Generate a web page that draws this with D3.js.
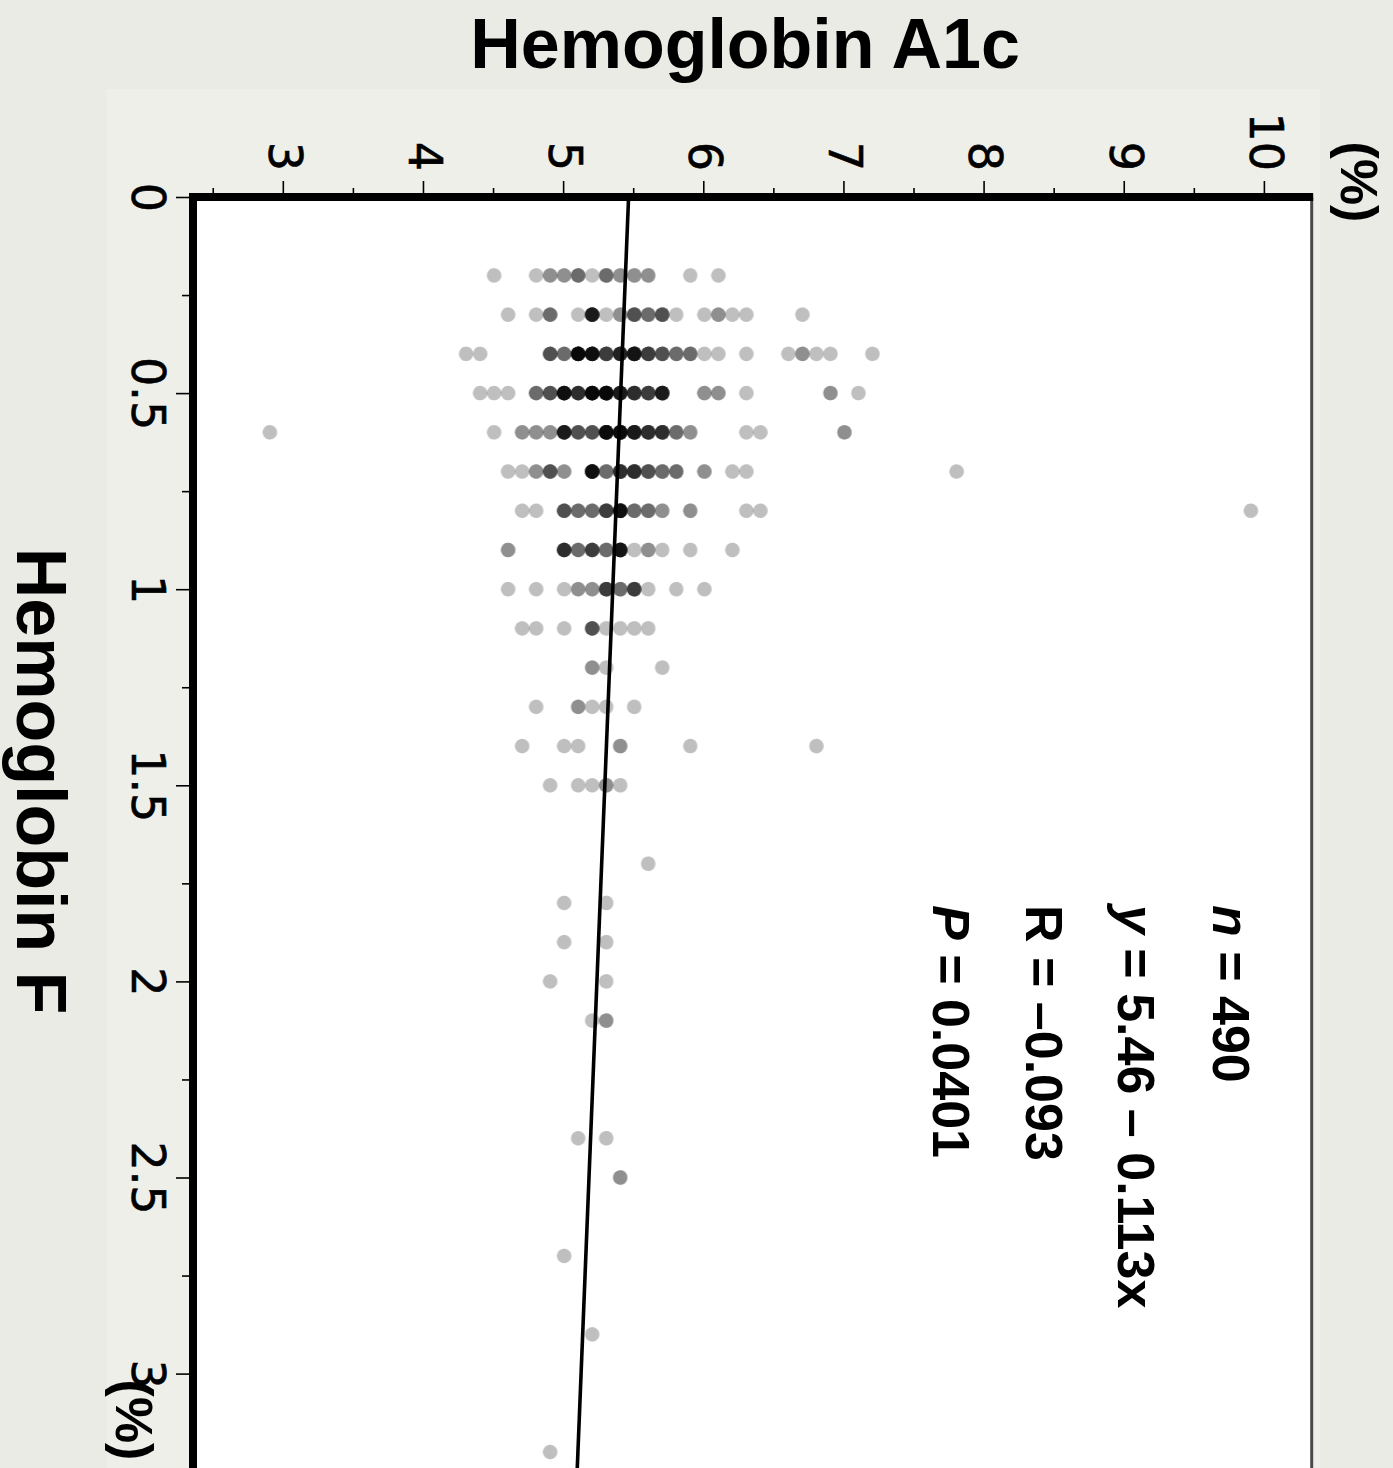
<!DOCTYPE html>
<html>
<head>
<meta charset="utf-8">
<script src="https://cdn.jsdelivr.net/npm/d3@7"></script>
<style>
  html, body { margin: 0; padding: 0; background: #ebebe5; }
  svg { display: block; }
</style>
</head>
<body>
<script>
// HbF levels (%) at which measurements were recorded (one row of dots per level)
const hbfRows = [0.2, 0.3, 0.4, 0.5, 0.6, 0.7, 0.8, 0.9, 1.0, 1.1, 1.2, 1.3, 1.4, 1.5,
                 1.7, 1.8, 1.9, 2.0, 2.1, 2.4, 2.5, 2.7, 2.9, 3.2];

// HbA1c values (%) found at each HbF level
const a1cByRow = [
  [4.5, 4.8, 4.9, 5.0, 5.1, 5.2, 5.3, 5.4, 5.5, 5.6, 5.9, 6.1],
  [4.6, 4.8, 4.9, 5.1, 5.2, 5.3, 5.4, 5.5, 5.6, 5.7, 5.8, 6.0, 6.1, 6.2, 6.3, 6.7],
  [4.3, 4.4, 4.9, 5.0, 5.1, 5.2, 5.3, 5.4, 5.5, 5.6, 5.7, 5.8, 5.9, 6.0, 6.1, 6.3, 6.6, 6.7, 6.8, 6.9, 7.2],
  [4.4, 4.5, 4.6, 4.8, 4.9, 5.0, 5.1, 5.2, 5.3, 5.4, 5.5, 5.6, 5.7, 6.0, 6.1, 6.3, 6.9, 7.1],
  [2.9, 4.5, 4.7, 4.8, 4.9, 5.0, 5.1, 5.2, 5.3, 5.4, 5.5, 5.6, 5.7, 5.8, 5.9, 6.3, 6.4, 7.0],
  [4.6, 4.7, 4.8, 4.9, 5.0, 5.2, 5.3, 5.4, 5.5, 5.6, 5.7, 5.8, 6.0, 6.2, 6.3, 7.8],
  [4.7, 4.8, 5.0, 5.1, 5.2, 5.3, 5.4, 5.5, 5.6, 5.7, 5.9, 6.3, 6.4, 9.9],
  [4.6, 5.0, 5.1, 5.2, 5.3, 5.4, 5.5, 5.6, 5.7, 5.9, 6.2],
  [4.6, 4.8, 5.0, 5.1, 5.2, 5.3, 5.4, 5.5, 5.6, 5.8, 6.0],
  [4.7, 4.8, 5.0, 5.2, 5.3, 5.4, 5.5, 5.6],
  [5.2, 5.3, 5.7],
  [4.8, 5.1, 5.2, 5.3, 5.5],
  [4.7, 5.0, 5.1, 5.4, 5.9, 6.8],
  [4.9, 5.1, 5.2, 5.3, 5.4],
  [5.6],
  [5.0, 5.3],
  [5.0, 5.3],
  [4.9, 5.3],
  [5.2, 5.3],
  [5.1, 5.3],
  [5.4],
  [5.0],
  [5.2],
  [4.9]
];

// Number of subjects sharing each (HbF, HbA1c) pair
const countByRow = [
  [1, 1, 2, 2, 3, 1, 3, 2, 2, 2, 1, 1],
  [1, 1, 3, 1, 8, 1, 2, 4, 3, 4, 1, 1, 2, 1, 1, 1],
  [1, 1, 4, 3, 12, 10, 5, 7, 9, 5, 4, 3, 3, 1, 1, 1, 1, 2, 1, 1, 1],
  [1, 1, 1, 3, 4, 10, 6, 12, 12, 8, 6, 5, 8, 2, 2, 1, 2, 1],
  [1, 1, 2, 2, 2, 8, 4, 4, 11, 11, 8, 6, 6, 3, 2, 1, 1, 2],
  [1, 1, 2, 4, 2, 10, 3, 6, 6, 4, 3, 3, 2, 1, 1, 1],
  [1, 1, 4, 3, 3, 5, 10, 3, 3, 2, 2, 1, 1, 1],
  [2, 6, 3, 5, 3, 9, 1, 2, 1, 1, 1],
  [1, 1, 1, 2, 2, 5, 3, 5, 1, 1, 1],
  [1, 1, 1, 4, 1, 1, 1, 1],
  [2, 1, 1],
  [1, 2, 1, 1, 1],
  [1, 1, 1, 2, 1, 1],
  [1, 1, 1, 2, 1],
  [1],
  [1, 1],
  [1, 1],
  [1, 1],
  [1, 2],
  [1, 1],
  [2],
  [1],
  [1],
  [1]
];

// Least-squares fit: HbA1c = intercept + slope * HbF
const fitIntercept = 5.46;
const fitSlope = -0.113;
const fitR = "–0.093";
const fitP = "0.0401";

// Axis ranges and ticks
const a1cDomain = [2.352, 10.334];
const hbfDomain = [0, 3.3];
const a1cTicks = [3, 4, 5, 6, 7, 8, 9, 10];
const a1cMinorTicks = [2.5, 3.5, 4.5, 5.5, 6.5, 7.5, 8.5, 9.5];
const hbfTicks = [0, 0.5, 1, 1.5, 2, 2.5, 3];
const hbfMinorTicks = [0.25, 0.75, 1.25, 1.75, 2.25, 2.75, 3.25];

// ---- expand counts into individual observations ----
const points = [];
hbfRows.forEach((hbf, i) => {
  a1cByRow[i].forEach((a1c, j) => {
    for (let k = 0; k < countByRow[i][j]; k++) points.push({ hbf, a1c });
  });
});
const nTotal = points.length;

// ---- layout ----
const width = 1393, height = 1468;
const plotLeft = 193, plotTop = 197, plotRight = 1311.7;
const plotH = plotRight - plotLeft;          // extent of the HbA1c axis (drawn horizontally)
const pxPerHbF = 392.2;
const plotW = (hbfDomain[1] - hbfDomain[0]) * pxPerHbF; // extent of the HbF axis (drawn vertically)

const svg = d3.select("body").append("svg")
  .attr("width", width).attr("height", height)
  .attr("viewBox", `0 0 ${width} ${height}`);

const defs = svg.append("defs");
defs.append("filter").attr("id", "soft")
  .attr("x", "-10%").attr("y", "-10%").attr("width", "120%").attr("height", "120%")
  .append("feGaussianBlur").attr("stdDeviation", 0.7);

// backgrounds
svg.append("rect").attr("width", width).attr("height", height).attr("fill", "#ebebe5");
svg.append("rect").attr("x", 107).attr("y", 89).attr("width", 1213).attr("height", height - 89)
  .attr("fill", "#efefea");

// The scatter is laid out as a conventional chart (HbF across, HbA1c up)
// and turned a quarter clockwise so HbF runs down the page.
const g = svg.append("g")
  .attr("transform", `translate(${plotRight},${plotTop}) rotate(90)`);

const x = d3.scaleLinear().domain(hbfDomain).range([0, plotW]);
const y = d3.scaleLinear().domain(a1cDomain).range([plotH, 0]);

g.append("rect").attr("x", 0).attr("y", 0).attr("width", plotW).attr("height", plotH)
  .attr("fill", "#ffffff");

// dots
g.append("g").attr("filter", "url(#soft)")
  .selectAll("circle").data(points).join("circle")
  .attr("cx", d => x(d.hbf))
  .attr("cy", d => y(d.a1c))
  .attr("r", 7.3)
  .attr("fill", "#000")
  .attr("fill-opacity", 0.25);

// regression line
g.append("line")
  .attr("x1", x(hbfDomain[0])).attr("y1", y(fitIntercept + fitSlope * hbfDomain[0]))
  .attr("x2", x(hbfDomain[1])).attr("y2", y(fitIntercept + fitSlope * hbfDomain[1]))
  .attr("stroke", "#000").attr("stroke-width", 3.6);

// thin far border
g.append("line").attr("x1", 0).attr("x2", plotW).attr("y1", 0).attr("y2", 0)
  .attr("stroke", "#4a4a4a").attr("stroke-width", 3);

// axes
const tickFont = "'DejaVu Sans', sans-serif";
function styleAxis(sel) {
  sel.select(".domain").remove();
  sel.selectAll(".tick line").attr("stroke", "#000").attr("stroke-width", 1.6);
  sel.selectAll(".tick text").attr("fill", "#000")
    .attr("stroke", "#000").attr("stroke-width", 0.6)
    .style("font-family", tickFont).style("font-size", "46px");
}

g.append("g")
  .call(d3.axisLeft(y).tickValues(a1cMinorTicks).tickSize(9).tickFormat(""))
  .call(styleAxis);
g.append("g")
  .call(d3.axisLeft(y).tickValues(a1cTicks).tickSize(16).tickPadding(10).tickFormat(d => String(d)))
  .call(styleAxis);

g.append("g").attr("transform", `translate(0,${plotH})`)
  .call(d3.axisBottom(x).tickValues(hbfMinorTicks).tickSize(11).tickFormat(""))
  .call(styleAxis);
g.append("g").attr("transform", `translate(0,${plotH})`)
  .call(d3.axisBottom(x).tickValues(hbfTicks).tickSize(17).tickPadding(11).tickFormat(d => String(d)))
  .call(styleAxis);

// heavy axis lines
g.append("line").attr("x1", 0).attr("x2", 0).attr("y1", -1.5).attr("y2", plotH + 4)
  .attr("stroke", "#000").attr("stroke-width", 8);
g.append("line").attr("x1", -4).attr("x2", plotW).attr("y1", plotH).attr("y2", plotH)
  .attr("stroke", "#000").attr("stroke-width", 8);

// ---- titles ----
const boldFont = "'Liberation Sans', Arial, sans-serif";

svg.append("text")
  .attr("x", 745).attr("y", 68)
  .attr("text-anchor", "middle")
  .style("font-family", boldFont).style("font-weight", "bold").style("font-size", "70px")
  .attr("fill", "#000")
  .text("Hemoglobin A1c");

function rotatedText(px, py, anchor, size) {
  return svg.append("text")
    .attr("transform", `translate(${px},${py}) rotate(90)`)
    .attr("text-anchor", anchor)
    .style("font-family", boldFont).style("font-weight", "bold").style("font-size", size + "px")
    .attr("fill", "#000");
}

rotatedText(17, 781, "middle", 70).text("Hemoglobin F");
rotatedText(1341, 182, "middle", 52).text("(%)");
rotatedText(116, 1420, "middle", 52).text("(%)");

// ---- statistics ----
const statLines = [
  [["n", true], [` = ${nTotal}`, false]],
  [["y", true], [` = ${fitIntercept} – ${Math.abs(fitSlope)}x`, false]],
  [[`R = ${fitR}`, false]],
  [["P", true], [` = ${fitP}`, false]]
];
const statBaselines = [1213, 1118, 1026, 933];
statLines.forEach((segs, i) => {
  const t = rotatedText(statBaselines[i], 905, "start", 52).style("white-space", "pre");
  segs.forEach(([s, it]) => {
    t.append("tspan").style("font-style", it ? "italic" : "normal").text(s);
  });
});
</script>
</body>
</html>
